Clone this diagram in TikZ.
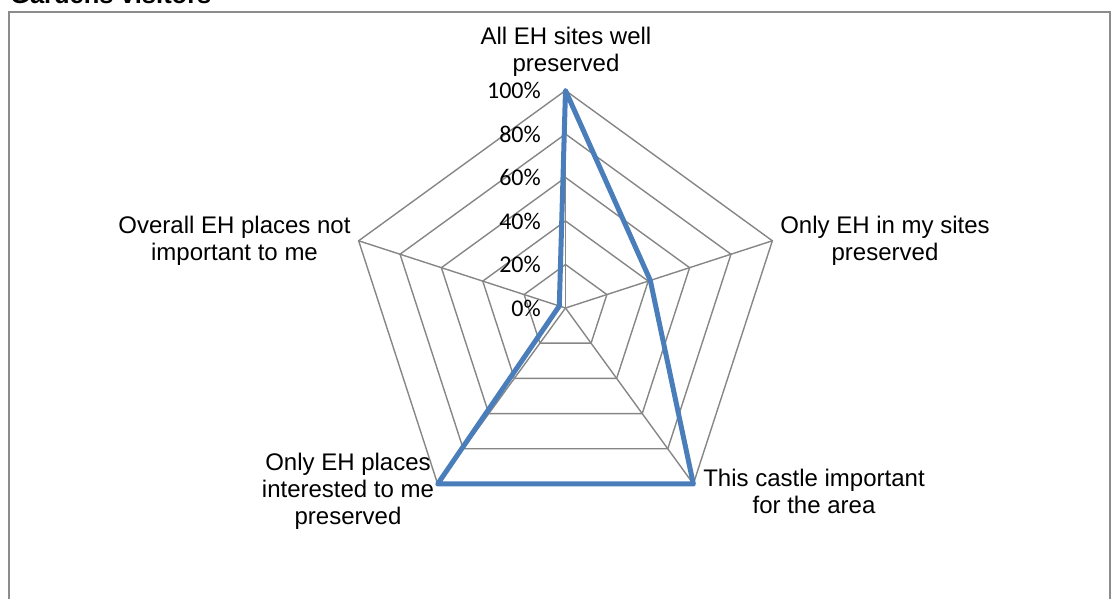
\documentclass[tikz,border=0pt]{standalone}
\usepackage{fontspec}
\usetikzlibrary{calc}
\setmainfont{Liberation Sans}
\newfontfamily\tickfont{Carlito}
\definecolor{gridgray}{HTML}{868686}
\definecolor{framegray}{HTML}{8C8C8C}
\definecolor{seriesblue}{HTML}{4A7EBB}
\begin{document}
\begin{tikzpicture}[x=1pt,y=-1pt,
  gridline/.style={draw=gridgray, line width=1.4pt},
  series/.style={draw=seriesblue, line width=5pt, line join=round},
  axislabel/.style={align=center, anchor=base, inner sep=0pt,
    font=\fontsize{24}{27}\selectfont},
  ticklabel/.style={anchor=east, inner sep=0pt,
    font=\tickfont\fontsize{24}{24}\selectfont},
  titlestyle/.style={anchor=base west, inner sep=0pt,
    font=\bfseries\fontsize{25.5}{25.5}\selectfont},
]
\useasboundingbox (0,0) rectangle (1112,599);
\clip (0,0) rectangle (1112,599);
\def\cx{565.5}
\def\cy{308}
\def\R{217.5}
% frame and title
\draw[draw=framegray, line width=1.5pt] (9,12) rectangle (1110,620);
\node[titlestyle] (title) at (10,4) {Gardens visitors};
% axis end points and centre
\coordinate (c) at (\cx,\cy);
\foreach \i in {0,...,4} {
  \coordinate (a\i) at ({\cx+\R*cos(90-72*\i)},{\cy-\R*sin(90-72*\i)});
}
% grid pentagons
\foreach \f in {0.2,0.4,0.6,0.8,1.0} {
  \draw[gridline] ($(c)!\f!(a0)$) -- ($(c)!\f!(a1)$) -- ($(c)!\f!(a2)$)
    -- ($(c)!\f!(a3)$) -- ($(c)!\f!(a4)$) -- cycle;
}
\foreach \i in {0,...,4} { \draw[gridline] (c) -- (a\i); }
% tick labels
\foreach \v [count=\k from 0] in {0\%,20\%,40\%,60\%,80\%,100\%} {
  \node[ticklabel] (t\k) at (541,{\cy-\R*\k/5}) {\v};
}
% data
\coordinate (d0) at ($(c)!1.00!(a0)$);
\coordinate (d1) at ($(c)!0.41!(a1)$);
\coordinate (d2) at ($(c)!1.00!(a2)$);
\coordinate (d3) at ($(c)!1.00!(a3)$);
\coordinate (d4) at ($(c)!0.03!(a4)$);
\draw[series] (d0) -- (d1) -- (d2) -- (d3) -- (d4) -- cycle;
% axis labels (anchor = baseline of last line)
\node[axislabel] (l0) at (566,72) {All EH sites well\\preserved};
\node[axislabel] (l1) at (885,260) {Only EH in my sites\\preserved};
\node[axislabel] (l2) at (814,513) {This castle important\\for the area};
\node[axislabel] (l3) at (348,524) {Only EH places\\interested to me\\preserved};
\node[axislabel] (l4) at (234.5,260) {Overall EH places not\\important to me};
\end{tikzpicture}
\end{document}
